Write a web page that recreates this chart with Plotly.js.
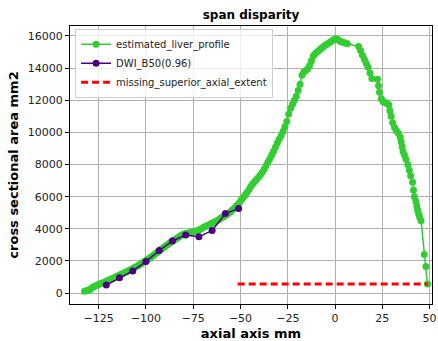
<!DOCTYPE html>
<html>
<head>
<meta charset="utf-8">
<script src="https://cdn.plot.ly/plotly-3.0.1.min.js"></script>
<style>html,body{margin:0;padding:0;background:#fff;}#chart{width:438px;height:341px;}</style>
</head>
<body>
<div id="chart"></div>
<script>
// estimated_liver_profile
const liverX = [-132.5,-131.5,-130.5,-129.5,-128.5,-127.5,-126.5,-125.5,-124.5,-123.5,-122.5,-121.5,-120.5,-119.5,-118.5,-117.5,-116.5,-115.5,-114.5,-113.5,-112.5,-111.5,-110.5,-109.5,-108.5,-107.5,-106.5,-105.5,-104.5,-103.5,-102.5,-101.5,-100.5,-99.5,-98.5,-97.5,-96.5,-95.5,-94.5,-93.5,-92.5,-91.5,-90.5,-89.5,-88.5,-87.5,-86.5,-85.5,-84.5,-83.5,-82.5,-81.5,-80.5,-79.5,-78.5,-77.5,-76.5,-75.5,-74.5,-73.5,-72.5,-71.5,-70.5,-69.5,-68.5,-67.5,-66.5,-65.5,-64.5,-63.5,-62.5,-61.5,-60.5,-59.5,-58.5,-57.5,-56.5,-55.5,-54.5,-53.5,-52.5,-51.5,-50.5,-49.5,-48.5,-47.5,-46.5,-45.5,-44.5,-43.5,-42.5,-41.5,-40.5,-39.5,-38.5,-37.5,-36.5,-35.5,-34.5,-33.5,-32.5,-31.5,-30.5,-29.5,-28.5,-27.5,-26.5,-25.5,-24.5,-23.5,-22.5,-21.5,-20.5,-19.5,-18.5,-17.5,-16.5,-15.5,-14.5,-13.5,-12.5,-11.5,-10.5,-9.5,-8.5,-7.5,-6.5,-5.5,-4.5,-3.5,-2.5,-1.5,-0.5,0.5,1.5,2.5,3.5,4.5,5.5,6.5,12.5,13.5,14.5,15.5,16.5,17.5,18.5,19.5,22.5,23.0,23.5,24.5,25.5,26.5,27.5,28.5,29.0,29.7,30.5,31.5,32.5,33.5,34.5,35.0,35.5,36.0,36.7,37.5,38.5,39.3,40.0,41.0,41.5,42.0,42.8,43.3,43.7,44.3,44.8,45.5,47.2,48.1,48.9];
const liverArea = [120,150,180,230,330,410,460,520,570,610,650,700,760,820,870,920,980,1030,1090,1160,1210,1260,1310,1370,1430,1490,1560,1620,1690,1760,1830,1920,2000,2080,2150,2230,2310,2400,2500,2590,2680,2760,2850,2940,3030,3120,3200,3280,3350,3420,3500,3580,3640,3690,3720,3740,3770,3800,3830,3860,3900,3960,4020,4090,4150,4210,4270,4330,4380,4440,4500,4570,4650,4730,4800,4870,4950,5040,5150,5270,5390,5500,5640,5810,5960,6110,6270,6440,6650,6800,6940,7070,7200,7350,7520,7700,7920,8150,8360,8600,8830,9090,9360,9590,9800,10050,10350,10680,11150,11500,11750,12000,12250,12600,13000,13550,13750,13850,13950,14150,14450,14750,14900,15000,15100,15200,15300,15400,15470,15550,15620,15700,15780,15830,15780,15680,15620,15600,15560,15520,15350,15100,14800,14550,14300,14050,13700,13350,13300,12900,12500,12100,11900,11850,11800,11700,11350,11000,10600,10300,10100,9950,9700,9400,9100,8800,8600,8350,8000,7650,7300,6900,6400,6000,5700,5400,5150,4900,4700,4500,2400,1650,560];

// DWI_B50(0.96)
const dwiX = [-121,-114,-107,-100,-93,-86,-79,-72,-65,-58,-51];
const dwiArea = [500,950,1380,1960,2650,3240,3620,3500,3900,4950,5270];

// missing_superior_axial_extent
const missX = [-51.5,49];
const missArea = [560,560];

const xTicks = [-125,-100,-75,-50,-25,0,25,50];
const xTickText = ['\u2212125','\u2212100','\u221275','\u221250','\u221225','0','25','50'];
const yTicks = [0,2000,4000,6000,8000,10000,12000,14000,16000];
const yTickText = ['0','2000','4000','6000','8000','10000','12000','14000','16000'];

const FONT = 'DejaVu Sans, sans-serif';

const traces = [
  {x: liverX, y: liverArea, type:'scatter', mode:'lines+markers', name:'estimated_liver_profile',
   line:{color:'#32CD32', width:1.5}, marker:{color:'#32CD32', size:7}},
  {x: dwiX, y: dwiArea, type:'scatter', mode:'lines+markers', name:'DWI_B50(0.96)',
   line:{color:'#4B0082', width:1.5}, marker:{color:'#4B0082', size:7}},
  {x: missX, y: missArea, type:'scatter', mode:'lines', name:'missing_superior_axial_extent',
   line:{color:'#FF0000', width:3, dash:'7px,4px'}}
];

const layout = {
  width:438, height:341,
  margin:{l:70, r:6, t:26, b:37},
  paper_bgcolor:'#fff', plot_bgcolor:'#fff',
  font:{family:FONT, size:11, color:'#222'},
  title:{text:'<b>span disparity</b>', font:{family:FONT, size:12, color:'#000'},
         x:0.5, xref:'paper', xanchor:'center', y:0.958, yref:'container', yanchor:'middle'},
  xaxis:{range:[-140.2,51.3], tickvals:xTicks, ticktext:xTickText, ticks:'outside', ticklen:4, tickcolor:'#000',
         showgrid:true, gridcolor:'#b0b0b0', gridwidth:1, zeroline:false,
         showline:true, linecolor:'#000', linewidth:1, mirror:true,
         tickfont:{family:FONT, size:11, color:'#222'},
         title:{text:'<b>axial axis mm</b>', font:{family:FONT, size:13, color:'#000'}, standoff:6}},
  yaxis:{range:[-680,16620], tickvals:yTicks, ticktext:yTickText, ticks:'outside', ticklen:4, tickcolor:'#000',
         showgrid:true, gridcolor:'#b0b0b0', gridwidth:1, zeroline:false,
         showline:true, linecolor:'#000', linewidth:1, mirror:true,
         tickfont:{family:FONT, size:11, color:'#222'},
         title:{text:'<b>cross sectional area mm2</b>', font:{family:FONT, size:13, color:'#000'}, standoff:6}},
  legend:{x:0.014, y:0.99, xanchor:'left', yanchor:'top', bgcolor:'rgba(255,255,255,0.8)',
          bordercolor:'#cccccc', borderwidth:1, font:{family:FONT, size:10, color:'#222'},
          tracegroupgap:0, itemwidth:30},
  showlegend:true
};

Plotly.newPlot('chart', traces, layout, {staticPlot:true, displayModeBar:false});
</script>
</body>
</html>
